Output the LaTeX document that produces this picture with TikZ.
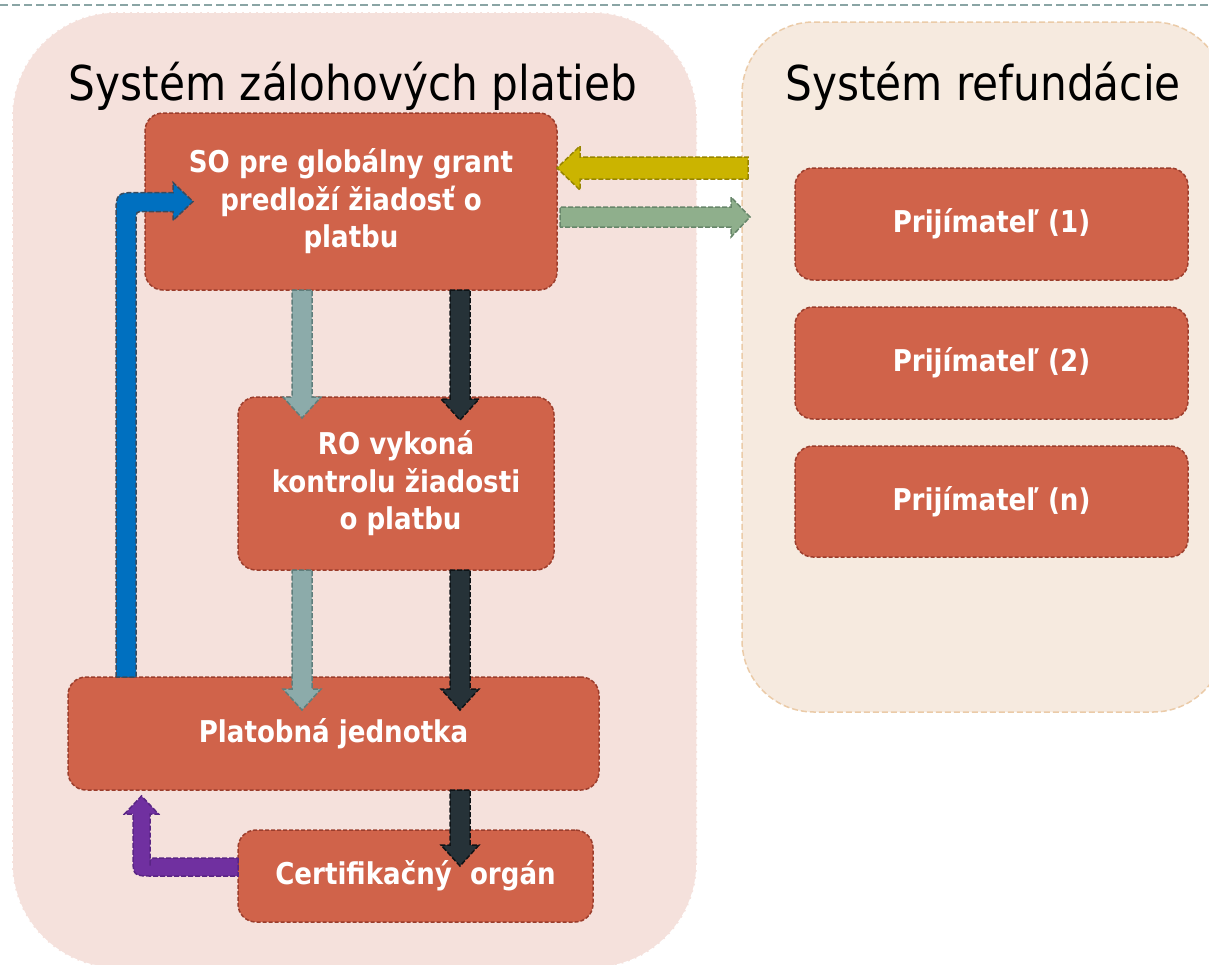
\documentclass[tikz,border=0pt]{standalone}
\usepackage{fontspec}
\setmainfont{DejaVu Sans}
\newfontfamily\titlefont[FakeStretch=0.88]{DejaVu Sans}
\newfontfamily\boxfont[FakeStretch=0.87]{DejaVu Sans}
\usetikzlibrary{calc}
\definecolor{boxfill}{HTML}{D0634A}
\definecolor{boxline}{HTML}{9B3D2C}
\definecolor{leftbg}{HTML}{F5E1DC}
\definecolor{rightbg}{HTML}{F6EADF}
\definecolor{rightline}{HTML}{EBCBA8}
\definecolor{topline}{HTML}{8AA5A5}
\definecolor{grayfill}{HTML}{8CABAA}
\definecolor{grayline}{HTML}{5F7E7C}
\definecolor{darkfill}{HTML}{263238}
\definecolor{darkline}{HTML}{0E1316}
\definecolor{yelfill}{HTML}{CBB400}
\definecolor{yelline}{HTML}{978500}
\definecolor{grnfill}{HTML}{8FAF8C}
\definecolor{grnline}{HTML}{67866A}
\definecolor{bluefill}{HTML}{0070C0}
\definecolor{blueline}{HTML}{3B4A5C}
\definecolor{purpfill}{HTML}{7030A0}
\definecolor{purpline}{HTML}{5A2585}
\newcommand\vArrow[4]{%
  \path[fill=#3,draw=#4,arrowline] let \p1=(#1), \p2=(#2) in
    (\x1-10pt,\y1) -- (\x1+10pt,\y1) -- (\x1+10pt,\y2+21pt) -- (\x1+19pt,\y2+21pt)
    -- (\x1,\y2) -- (\x1-19pt,\y2+21pt) -- (\x1-10pt,\y2+21pt) -- cycle;}
\begin{document}
\begin{tikzpicture}[x=1pt,y=-1pt,
  panel/.style={rounded corners=#1, inner sep=0pt, outer sep=0pt},
  leftpanel/.style={panel=105pt, fill=leftbg, draw=white, line width=1.5pt, dash pattern=on 5pt off 2pt},
  rightpanel/.style={panel=72pt, fill=rightbg, draw=rightline, line width=1.5pt, dash pattern=on 6pt off 3pt},
  titletext/.style={font=\titlefont\fontsize{48}{54}\selectfont, text=black, inner sep=0pt},
  stepbox/.style={rounded corners=18pt, fill=boxfill, draw=boxline, line width=1.5pt,
    dash pattern=on 4pt off 2pt, inner sep=0pt, outer sep=0pt, text=white, align=center,
    font=\boxfont\bfseries\fontsize{30}{37.5}\selectfont},
  arrowline/.style={line width=1.5pt, dash pattern=on 5pt off 2pt, line join=miter}]
\useasboundingbox (0,0) rectangle (1209,964);
\fill[white] (0,0) rectangle (1209,964);
\draw[topline, line width=2pt, dash pattern=on 8pt off 4pt] (0,5) -- (1209,5);

% panels
\node[leftpanel, minimum width=685pt, minimum height=956pt] (zal) at (354.5,490) {};
\node[rightpanel, minimum width=483pt, minimum height=690pt] (ref) at (983.5,367) {};
\node[titletext] (t1) at (353,86) {Systém zálohových platieb};
\node[titletext] (t2) at (983,86) {Systém refundácie};

% boxes
\node[stepbox, minimum width=412pt, minimum height=177pt] (so) at (351,201.5)
  {SO pre globálny grant\\predloží žiadosť o\\platbu};
\node[stepbox, minimum width=316pt, minimum height=173pt] (ro) at (396,483.5)
  {RO vykoná\\kontrolu žiadosti\\\ o platbu};
\node[stepbox, minimum width=531pt, minimum height=113pt] (plat) at (333.5,733.5)
  {Platobná jednotka};
\node[stepbox, minimum width=355pt, minimum height=92pt] (cert) at (415.5,876)
  {Certifikačný\ \ orgán};
\node[stepbox, minimum width=393pt, minimum height=112pt] (p1) at (991.5,224) {Prijímateľ (1)};
\node[stepbox, minimum width=393pt, minimum height=112pt] (p2) at (991.5,363) {Prijímateľ (2)};
\node[stepbox, minimum width=393pt, minimum height=111pt] (pn) at (991.5,501.5) {Prijímateľ (n)};

% helper coordinates
\coordinate (gx) at (302,0);
\coordinate (dx) at (460,0);
\coordinate (bx) at (126,0);
\coordinate (ya) at (0,168);
\coordinate (gy) at (0,217);

% vertical arrows
\vArrow{gx |- so.south}{$(gx |- ro.north)+(0,21)$}{grayfill}{grayline}
\vArrow{gx |- ro.south}{$(gx |- plat.north)+(0,33)$}{grayfill}{grayline}
\vArrow{dx |- so.south}{$(dx |- ro.north)+(0,23)$}{darkfill}{darkline}
\vArrow{dx |- ro.south}{$(dx |- plat.north)+(0,33)$}{darkfill}{darkline}
\vArrow{dx |- plat.south}{$(dx |- cert.north)+(0,36)$}{darkfill}{darkline}

% yellow arrow (refund -> SO)
\path[fill=yelfill, draw=yelline, arrowline]
  let \p1=($(ref.west |- ya)+(6,0)$), \p2=(so.east |- ya) in
  (\x1,\y1-11pt) -- (\x1,\y1+11pt) -- (\x2+23pt,\y1+11pt) -- (\x2+23pt,\y1+22pt)
  -- (\x2,\y1) -- (\x2+23pt,\y1-22pt) -- (\x2+23pt,\y1-11pt) -- cycle;
% green arrow (SO -> refund)
\path[fill=grnfill, draw=grnline, arrowline]
  let \p1=($(so.east |- gy)+(3,0)$), \p2=($(ref.west |- gy)+(8,0)$) in
  (\x1,\y1-10pt) -- (\x1,\y1+10pt) -- (\x2-19pt,\y1+10pt) -- (\x2-19pt,\y1+20pt)
  -- (\x2,\y1) -- (\x2-19pt,\y1-20pt) -- (\x2-19pt,\y1-10pt) -- cycle;

% blue bent arrow (Platobna -> SO)
\path[fill=bluefill, draw=blueline, arrowline]
  let \p1=(bx |- plat.north), \p2=($(so.west)+(48,0)$) in
  (\x1-10pt,\y1) -- (\x1-10pt,\y2+9pt-24pt)
  .. controls (\x1-10pt,\y2+9pt) .. (\x1+14pt,\y2+9pt)
  -- (\x2-20pt,\y2+9pt) -- (\x2-20pt,\y2+19pt) -- (\x2,\y2) -- (\x2-20pt,\y2-19pt)
  -- (\x2-20pt,\y2-10pt) -- (\x1+19pt,\y2-10pt)
  .. controls (\x1+10pt,\y2-10pt) .. (\x1+10pt,\y2-19pt) -- (\x1+10pt,\y1) -- cycle;

% purple bent arrow (Certifikacny -> Platobna)
\coordinate (px) at (141.5,0);
\path[fill=purpfill, draw=purpline, arrowline]
  let \p1=($(cert.west)+(0,-18)$), \p2=($(px |- plat.south)+(0,6)$) in
  (\x1,\y1) -- (\x1,\y1-18pt) -- (\x2+12pt,\y1-18pt)
  .. controls (\x2-8.5pt,\y1-18pt) .. (\x2-8.5pt,\y1+2pt)
  -- (\x2-8.5pt,\y2-18pt) -- (\x2-17pt,\y2-18pt) -- (\x2,\y2) -- (\x2+17pt,\y2-18pt)
  -- (\x2+8.5pt,\y2-18pt) -- (\x2+8.5pt,\y1-8pt)
  .. controls (\x2+8.5pt,\y1) .. (\x2+16pt,\y1) -- cycle;
\end{tikzpicture}
\end{document}
